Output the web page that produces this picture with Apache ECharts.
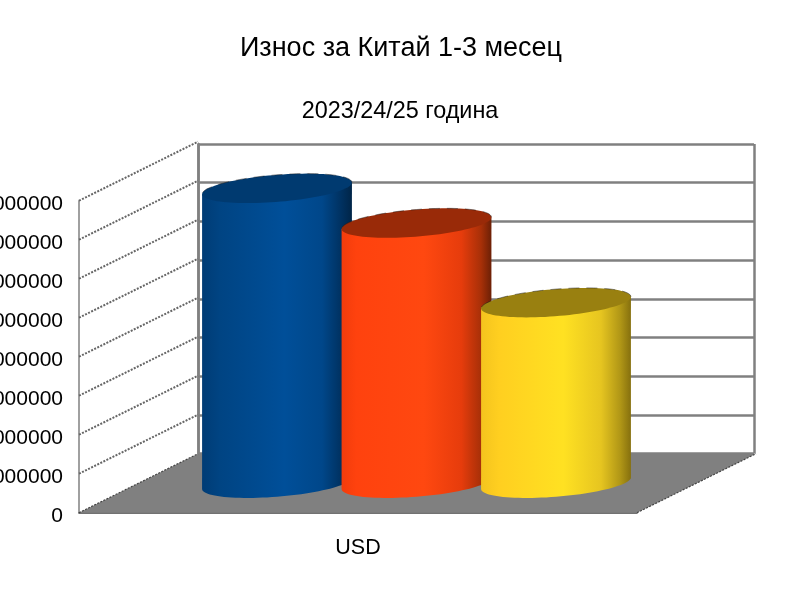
<!DOCTYPE html>
<html><head><meta charset="utf-8">
<style>html,body{margin:0;padding:0;background:#fff}#c{width:800px;height:600px}</style>
<script src="https://cdn.jsdelivr.net/npm/echarts@6/dist/echarts.min.js"></script>
</head><body><div id="c"></div>
<script>
const categories = ['USD'];
const seriesNames = ['2023', '2024', '2025'];
const seriesValues = [75600000, 66700000, 46300000];
const tickValues = [0, 10000000, 20000000, 30000000, 40000000, 50000000, 60000000, 70000000, 80000000];
const titleText = 'Износ за Китай 1-3 месец';
const subtitleText = '2023/24/25 година';

const DX = 119, DY = -59;
const FONT = '"Liberation Sans", Arial, sans-serif';
const looks = [
  {top:'#003a70', stops:[[0,'#003c75'],[0.12,'#004483'],[0.55,'#004f99'],[0.8,'#00478a'],[0.93,'#003160'],[1,'#002548']]},
  {top:'#992a08', stops:[[0,'#f23c0c'],[0.1,'#ff420e'],[0.55,'#ff4810'],[0.8,'#e63c0c'],[0.93,'#a83008'],[1,'#6c2006']]},
  {top:'#998010', stops:[[0,'#f4c41e'],[0.12,'#ffcf20'],[0.55,'#ffe122'],[0.8,'#e6c520'],[0.93,'#b09616'],[1,'#86700e']]}
];

function cylinder(idx) {
  return function (params, api) {
    const slot = api.size([1, 0])[0] / 4;
    const top = api.coord([api.value(0), api.value(1)]);
    const base = api.coord([api.value(0), 0]);
    const cx = top[0] + (idx - 1) * slot + DX / 2 - 1;
    const yT = top[1] + DY / 2, yB = base[1] + DY / 2;
    const a = slot / 2 - 1, bx = DX / 4, by = -DY / 4;
    const t0 = Math.atan2(bx, a);
    const pt = (t, y) => [cx + a * Math.cos(t) + bx * Math.sin(t), y - by * Math.sin(t)];
    const body = [], cap = [], rim = [];
    for (let i = 0; i <= 48; i++) body.push(pt(t0 - Math.PI * i / 48, yB));
    body.push(pt(t0 + Math.PI, yT), pt(t0, yT));
    for (let i = 0; i < 96; i++) cap.push(pt(Math.PI * i / 48, yT));
    for (let i = 0; i <= 48; i++) rim.push(pt(t0 + Math.PI * i / 48, yT));
    const look = looks[idx];
    return {type:'group', children:[
      {type:'polygon', shape:{points:body}, style:{fill:new echarts.graphic.LinearGradient(0,0,1,0,
        look.stops.map(s=>({offset:s[0],color:s[1]})))}},
      {type:'polygon', shape:{points:cap}, style:{fill:look.top}},
      {type:'polyline', shape:{points:rim}, style:{fill:null, stroke:'#1a1a1a', lineWidth:0.7, lineDash:[11,7], opacity:0.7}}
    ]};
  };
}

function wallLine(params, api) {
  const cs = params.coordSys;
  const y = api.coord([0, api.value(1)])[1];
  return {type:'line', shape:{x1:cs.x, y1:y, x2:cs.x + DX, y2:y + DY},
    style:{stroke:'#666', lineWidth:2, lineDash:[2,1.4]}};
}

function floor(params, api) {
  const cs = params.coordSys;
  const y = api.coord([0, 0])[1], x0 = cs.x, x1 = cs.x + cs.width;
  return {type:'group', children:[
    {type:'polygon', shape:{points:[[x0,y],[x1,y],[x1+DX,y+DY],[x0+DX,y+DY]]}, style:{fill:'#808080'}},
    {type:'line', shape:{x1:x1,y1:y,x2:x1+DX,y2:y+DY}, style:{stroke:'#444',lineWidth:1.2,lineDash:[2,1.4]}},
    {type:'line', shape:{x1:x0,y1:y,x2:x0+DX,y2:y+DY}, style:{stroke:'#444',lineWidth:1.2,lineDash:[2,1.4]}}
  ]};
}

const chart = echarts.init(document.getElementById('c'));
chart.setOption({
  backgroundColor:'#fff',
  animation:false,
  title:[
    {text:titleText, left:396, top:30, textAlign:'center', textStyle:{fontFamily:FONT, fontWeight:'normal', fontSize:27, color:'#000'}},
    {text:subtitleText, left:395, top:95, textAlign:'center', textStyle:{fontFamily:FONT, fontWeight:'normal', fontSize:23.4, color:'#000'}}
  ],
  grid:[
    {left:79, top:200.7, width:558, height:312, containLabel:false, outerBoundsMode:'none'},
    {left:198, top:144, width:556, height:309.5, containLabel:false, outerBoundsMode:'none'}
  ],
  xAxis:[
    {gridIndex:0, type:'category', data:categories, axisTick:{show:false},
     axisLine:{lineStyle:{color:'#444', width:1.5}},
     axisLabel:{fontFamily:FONT, fontSize:21.5, color:'#000', margin:24}},
    {gridIndex:1, type:'category', data:categories, axisTick:{show:false},
     axisLine:{show:false}, axisLabel:{show:false},
     splitLine:{show:true, interval:0, lineStyle:{color:'#808080', width:2.5}}}
  ],
  yAxis:[
    {gridIndex:0, type:'value', min:0, max:80000000, interval:10000000,
     axisLine:{show:true, lineStyle:{color:'#808080', width:1.5}}, axisTick:{show:false}, splitLine:{show:false},
     axisLabel:{fontFamily:FONT, fontSize:21, color:'#000', margin:16, verticalAlign:'top', lineHeight:8, formatter:v=>String(v), hideOverlap:false, showMinLabel:true, showMaxLabel:true}},
    {gridIndex:1, type:'value', min:0, max:80000000, interval:10000000,
     axisLine:{show:true, lineStyle:{color:'#808080', width:2.5}}, axisTick:{show:false}, axisLabel:{show:false},
     splitLine:{show:true, lineStyle:{color:'#808080', width:2.5}}}
  ],
  series:[
    {type:'custom', name:'floor', xAxisIndex:0, yAxisIndex:0, z:2, silent:true, clip:false,
     data:[[0,0]], encode:{x:0,y:1}, renderItem:floor},
    {type:'custom', name:'walls', xAxisIndex:0, yAxisIndex:0, z:3, silent:true, clip:false,
     data:tickValues.slice(1).map(v=>[0,v]), encode:{x:0,y:1}, renderItem:wallLine}
  ].concat(seriesNames.map((n,i)=>({
    type:'custom', name:n, xAxisIndex:0, yAxisIndex:0, z:4+i, clip:false,
    data:[[0, seriesValues[i]]], encode:{x:0,y:1}, renderItem:cylinder(i)
  })))
});
</script></body></html>
